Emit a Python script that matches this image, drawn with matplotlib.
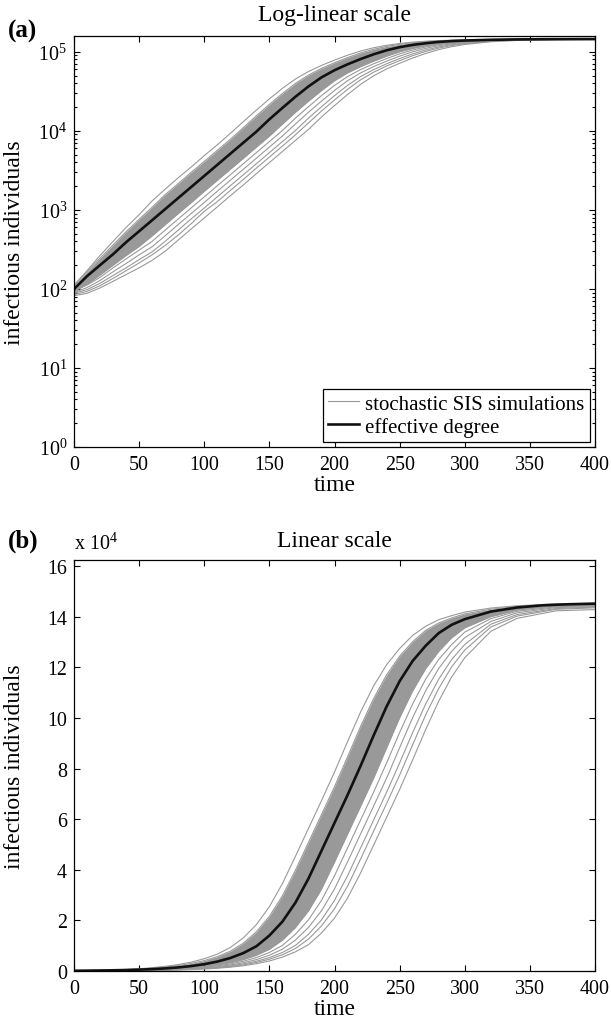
import numpy as np
import matplotlib
matplotlib.use('Agg')
import matplotlib.pyplot as plt
from matplotlib.ticker import MultipleLocator, FuncFormatter, LogLocator, NullLocator, NullFormatter

plt.rcParams['font.family'] = ['Liberation Serif', 'DejaVu Serif']
plt.rcParams['mathtext.fontset'] = 'custom'
plt.rcParams['mathtext.rm'] = 'Liberation Serif'
plt.rcParams['mathtext.it'] = 'Liberation Serif:italic'
plt.rcParams['mathtext.bf'] = 'Liberation Serif:bold'

# effective degree model (black curve)
t_black = [0, 10, 20, 30, 40, 50, 60, 70, 80, 90, 100, 110, 120, 130, 140, 150, 160, 170, 180, 190,
           200, 210, 220, 230, 240, 250, 260, 270, 280, 290, 300, 320, 340, 360, 380, 400]
effective_degree = [100, 145, 200, 275, 390, 537, 741, 1023, 1413, 1950, 2690, 3715, 5130, 7080, 9770,
                    14000, 19500, 27000, 36500, 47500, 58500, 69500, 81000, 93000, 104500, 114500,
                    122500, 128500, 133500, 136800, 139000, 142000, 143600, 144500, 144900, 145100]

# stochastic SIS runs: outer lines and the edges of the dense band
t_sim = [0, 10, 20, 30, 40, 50, 60, 70, 80, 90, 100, 110, 120, 130, 140, 150, 160, 170, 180, 190,
         200, 210, 220, 230, 240, 250, 260, 270, 280, 290, 300, 320, 340, 370, 400]
sim_first = [112, 170, 265, 400, 600, 870, 1300, 1830, 2550, 3490, 4860, 6660, 9280, 13100, 18300,
             25400, 34500, 45300, 56300, 67300, 78600, 90600, 102300, 112600, 121000, 127400, 132600,
             136200, 138800, 140400, 141800, 143400, 144300, 145000, 145400]
band_hi = [108, 165, 245, 360, 530, 760, 1080, 1560, 2150, 2990, 4100, 5670, 7800, 11000, 15500,
           21600, 29700, 39800, 50800, 61800, 72800, 84600, 96600, 107600, 117000, 124400, 130100,
           134600, 137500, 139500, 141100, 142900, 144000, 144900, 145300]
band_lo = [92, 115, 150, 200, 265, 345, 470, 650, 900, 1240, 1720, 2370, 3270, 4500, 6230, 8600,
           12200, 17200, 23800, 32400, 43100, 54100, 65100, 76200, 88200, 100100, 110700, 119500,
           126300, 131700, 135600, 140000, 142600, 144300, 144700]
sim_s1 = [95, 112, 140, 185, 240, 310, 400, 555, 767, 1060, 1460, 2020, 2780, 3840, 5300, 7320, 10100,
          14500, 20200, 27900, 37600, 48600, 59600, 70600, 82200, 94200, 105500, 115300, 123100,
          129000, 133900, 139200, 142100, 143900, 144300]
sim_s2 = [90, 104, 128, 165, 210, 270, 342, 471, 652, 900, 1240, 1720, 2370, 3270, 4500, 6230, 8600,
          12200, 17200, 23800, 32400, 43100, 54100, 65100, 76200, 88200, 100100, 110700, 119500,
          126300, 131700, 138100, 141500, 143600, 144000]
sim_s3 = [88, 98, 118, 148, 185, 235, 295, 400, 555, 770, 1055, 1460, 2020, 2780, 3840, 5300, 7320,
          10100, 14500, 20200, 27900, 37600, 48600, 59600, 70600, 82200, 94200, 105500, 115300,
          123100, 129000, 137000, 140800, 143200, 143800]
sim_s4 = [85, 93, 110, 136, 170, 213, 270, 355, 480, 670, 960, 1270, 1760, 2420, 3380, 4650, 6420,
          8900, 12600, 17800, 24600, 33500, 44200, 55200, 66200, 77400, 89400, 101200, 111600,
          120200, 126800, 135900, 140200, 142900, 143500]
sim_last = [82, 88, 103, 125, 152, 185, 230, 300, 415, 575, 790, 1090, 1510, 2070, 2870, 3970, 5480,
            7570, 10400, 15000, 20900, 28800, 38700, 49700, 60700, 71700, 83400, 95400, 106600,
            116200, 123800, 134200, 139300, 142300, 142800]

sims = [sim_first, band_hi, band_lo, sim_s1, sim_s2, sim_s3, sim_s4, sim_last]

gray = '#999999'
fs_tick = 14.4
fs_label = 17

fig = plt.figure(figsize=(6.11, 10.2), dpi=100)
ax1 = fig.add_axes([74 / 611, 1 - 448 / 1020, 521 / 611, 411.3 / 1020])
ax2 = fig.add_axes([74 / 611, 1 - 972 / 1020, 521 / 611, 411.3 / 1020])

for ax in [ax1, ax2]:
    ax.fill_between(t_sim, band_lo, band_hi, color=gray, lw=0)
    for i, s in enumerate(sims):
        ax.plot(t_sim, s, color=gray, lw=0.8, label='stochastic SIS simulations' if i == 0 else None)
    ax.plot(t_black, effective_degree, color='#111111', lw=1.9, label='effective degree')
    ax.set_xlim(0, 400)
    ax.xaxis.set_major_locator(MultipleLocator(50))
    ax.xaxis.set_minor_locator(NullLocator())
    ax.tick_params(which='both', direction='in', top=True, right=True, labelsize=fs_tick, width=0.8)
    ax.tick_params(which='major', length=4)
    ax.tick_params(axis='x', pad=6)
    ax.tick_params(axis='y', pad=5)
    for sp in ax.spines.values():
        sp.set_linewidth(0.9)
    ax.set_xlabel('time', fontsize=fs_label, labelpad=0)
    ax.set_ylabel('infectious individuals', fontsize=fs_label)
    ax.yaxis.set_label_coords(-0.095, 0.5)

# (a) log-linear
ax1.set_yscale('log')
ax1.set_ylim(1, 1.6e5)
ax1.yaxis.set_major_locator(LogLocator(base=10, numticks=10))
ax1.yaxis.set_minor_locator(LogLocator(base=10, subs=np.arange(2, 10), numticks=20))
ax1.yaxis.set_minor_formatter(NullFormatter())
ax1.tick_params(which='minor', length=2)
ax1.set_title('Log-linear scale', fontsize=fs_label, pad=11)
leg = ax1.legend(loc='lower right', fontsize=15, frameon=True, fancybox=False, framealpha=1,
                 edgecolor='black', handlelength=1.5, handletextpad=0.3, borderpad=0.25,
                 labelspacing=0.15, borderaxespad=0.25)
leg.get_frame().set_linewidth(0.9)

# (b) linear
ax2.set_ylim(0, 1.625e5)
ax2.yaxis.set_major_locator(MultipleLocator(2e4))
ax2.yaxis.set_major_formatter(FuncFormatter(lambda v, p: '%d' % round(v / 1e4)))
ax2.set_title('Linear scale', fontsize=fs_label, pad=10)
ax2.text(0, 1.027, r'x 10$^{4}$', transform=ax2.transAxes, fontsize=14.4, ha='left', va='baseline')

fig.text(8 / 611, 1 - 31 / 1020, '(a)', fontsize=18, fontweight='bold', va='center', ha='left')
fig.text(8 / 611, 1 - 541 / 1020, '(b)', fontsize=18, fontweight='bold', va='center', ha='left')

fig.savefig('out.png', dpi=100)
